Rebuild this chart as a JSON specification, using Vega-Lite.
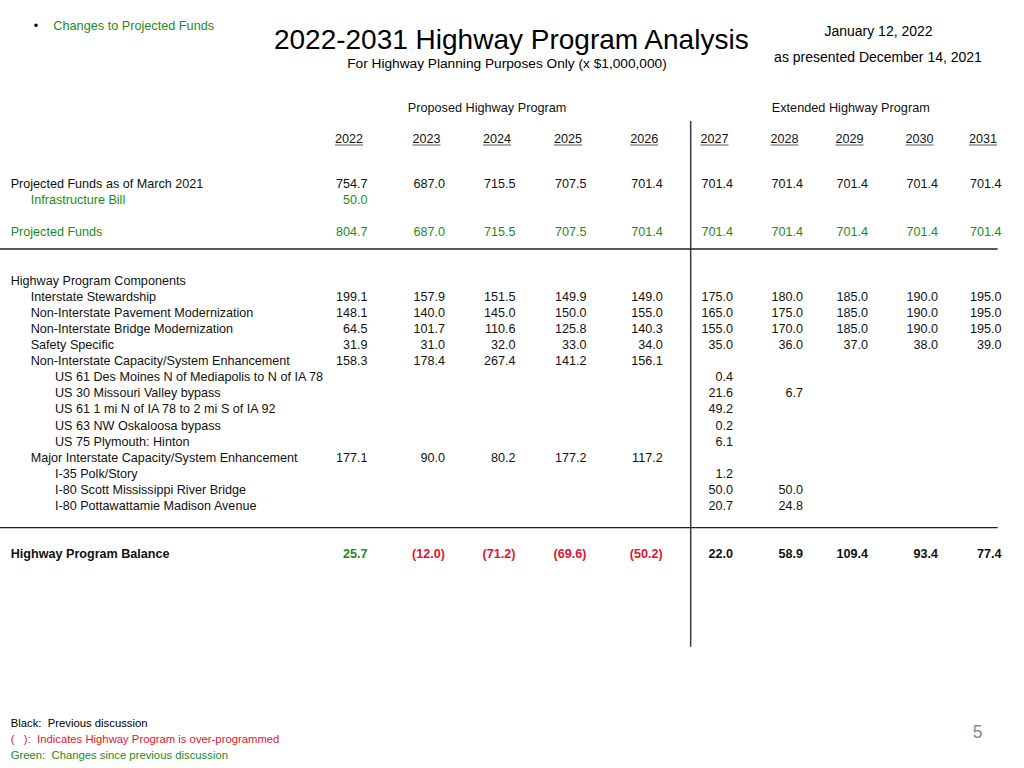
{
  "$schema": "https://vega.github.io/schema/vega-lite/v6.json",
  "width": 1024,
  "height": 768,
  "autosize": {"type": "none"},
  "padding": 0,
  "background": "#ffffff",
  "config": {"view": {"stroke": null}, "text": {"font": "Liberation Sans"}},
  "datasets": {
    "rows": [
      {"line": 0, "item": "Projected Funds as of March 2021", "level": 0, "status": "previous"},
      {"line": 1, "item": "Infrastructure Bill", "level": 1, "status": "changed"},
      {"line": 3, "item": "Projected Funds", "level": 0, "status": "changed"},
      {"line": 6, "item": "Highway Program Components", "level": 0, "status": "previous"},
      {"line": 7, "item": "Interstate Stewardship", "level": 1, "status": "previous"},
      {"line": 8, "item": "Non-Interstate Pavement Modernization", "level": 1, "status": "previous"},
      {"line": 9, "item": "Non-Interstate Bridge Modernization", "level": 1, "status": "previous"},
      {"line": 10, "item": "Safety Specific", "level": 1, "status": "previous"},
      {"line": 11, "item": "Non-Interstate Capacity/System Enhancement", "level": 1, "status": "previous"},
      {"line": 12, "item": "US 61 Des Moines N of Mediapolis to N of IA 78", "level": 2, "status": "previous"},
      {"line": 13, "item": "US 30 Missouri Valley bypass", "level": 2, "status": "previous"},
      {"line": 14, "item": "US 61 1 mi N of IA 78 to 2 mi S of IA 92", "level": 2, "status": "previous"},
      {"line": 15, "item": "US 63 NW Oskaloosa bypass", "level": 2, "status": "previous"},
      {"line": 16, "item": "US 75 Plymouth: Hinton", "level": 2, "status": "previous"},
      {"line": 17, "item": "Major Interstate Capacity/System Enhancement", "level": 1, "status": "previous"},
      {"line": 18, "item": "I-35 Polk/Story", "level": 2, "status": "previous"},
      {"line": 19, "item": "I-80 Scott Mississippi River Bridge", "level": 2, "status": "previous"},
      {"line": 20, "item": "I-80 Pottawattamie Madison Avenue", "level": 2, "status": "previous"},
      {"line": 23, "item": "Highway Program Balance", "level": 0, "status": "previous"}
    ],
    "years": [
      {"year": 2022}, {"year": 2023}, {"year": 2024}, {"year": 2025}, {"year": 2026},
      {"year": 2027}, {"year": 2028}, {"year": 2029}, {"year": 2030}, {"year": 2031}
    ],
    "one": [{}],
    "cells": [
      {"item": "Projected Funds as of March 2021", "year": 2022, "value": 754.7, "status": "previous"},
      {"item": "Projected Funds as of March 2021", "year": 2023, "value": 687.0, "status": "previous"},
      {"item": "Projected Funds as of March 2021", "year": 2024, "value": 715.5, "status": "previous"},
      {"item": "Projected Funds as of March 2021", "year": 2025, "value": 707.5, "status": "previous"},
      {"item": "Projected Funds as of March 2021", "year": 2026, "value": 701.4, "status": "previous"},
      {"item": "Projected Funds as of March 2021", "year": 2027, "value": 701.4, "status": "previous"},
      {"item": "Projected Funds as of March 2021", "year": 2028, "value": 701.4, "status": "previous"},
      {"item": "Projected Funds as of March 2021", "year": 2029, "value": 701.4, "status": "previous"},
      {"item": "Projected Funds as of March 2021", "year": 2030, "value": 701.4, "status": "previous"},
      {"item": "Projected Funds as of March 2021", "year": 2031, "value": 701.4, "status": "previous"},
      {"item": "Infrastructure Bill", "year": 2022, "value": 50.0, "status": "changed"},
      {"item": "Projected Funds", "year": 2022, "value": 804.7, "status": "changed"},
      {"item": "Projected Funds", "year": 2023, "value": 687.0, "status": "changed"},
      {"item": "Projected Funds", "year": 2024, "value": 715.5, "status": "changed"},
      {"item": "Projected Funds", "year": 2025, "value": 707.5, "status": "changed"},
      {"item": "Projected Funds", "year": 2026, "value": 701.4, "status": "changed"},
      {"item": "Projected Funds", "year": 2027, "value": 701.4, "status": "changed"},
      {"item": "Projected Funds", "year": 2028, "value": 701.4, "status": "changed"},
      {"item": "Projected Funds", "year": 2029, "value": 701.4, "status": "changed"},
      {"item": "Projected Funds", "year": 2030, "value": 701.4, "status": "changed"},
      {"item": "Projected Funds", "year": 2031, "value": 701.4, "status": "changed"},
      {"item": "Interstate Stewardship", "year": 2022, "value": 199.1, "status": "previous"},
      {"item": "Interstate Stewardship", "year": 2023, "value": 157.9, "status": "previous"},
      {"item": "Interstate Stewardship", "year": 2024, "value": 151.5, "status": "previous"},
      {"item": "Interstate Stewardship", "year": 2025, "value": 149.9, "status": "previous"},
      {"item": "Interstate Stewardship", "year": 2026, "value": 149.0, "status": "previous"},
      {"item": "Interstate Stewardship", "year": 2027, "value": 175.0, "status": "previous"},
      {"item": "Interstate Stewardship", "year": 2028, "value": 180.0, "status": "previous"},
      {"item": "Interstate Stewardship", "year": 2029, "value": 185.0, "status": "previous"},
      {"item": "Interstate Stewardship", "year": 2030, "value": 190.0, "status": "previous"},
      {"item": "Interstate Stewardship", "year": 2031, "value": 195.0, "status": "previous"},
      {"item": "Non-Interstate Pavement Modernization", "year": 2022, "value": 148.1, "status": "previous"},
      {"item": "Non-Interstate Pavement Modernization", "year": 2023, "value": 140.0, "status": "previous"},
      {"item": "Non-Interstate Pavement Modernization", "year": 2024, "value": 145.0, "status": "previous"},
      {"item": "Non-Interstate Pavement Modernization", "year": 2025, "value": 150.0, "status": "previous"},
      {"item": "Non-Interstate Pavement Modernization", "year": 2026, "value": 155.0, "status": "previous"},
      {"item": "Non-Interstate Pavement Modernization", "year": 2027, "value": 165.0, "status": "previous"},
      {"item": "Non-Interstate Pavement Modernization", "year": 2028, "value": 175.0, "status": "previous"},
      {"item": "Non-Interstate Pavement Modernization", "year": 2029, "value": 185.0, "status": "previous"},
      {"item": "Non-Interstate Pavement Modernization", "year": 2030, "value": 190.0, "status": "previous"},
      {"item": "Non-Interstate Pavement Modernization", "year": 2031, "value": 195.0, "status": "previous"},
      {"item": "Non-Interstate Bridge Modernization", "year": 2022, "value": 64.5, "status": "previous"},
      {"item": "Non-Interstate Bridge Modernization", "year": 2023, "value": 101.7, "status": "previous"},
      {"item": "Non-Interstate Bridge Modernization", "year": 2024, "value": 110.6, "status": "previous"},
      {"item": "Non-Interstate Bridge Modernization", "year": 2025, "value": 125.8, "status": "previous"},
      {"item": "Non-Interstate Bridge Modernization", "year": 2026, "value": 140.3, "status": "previous"},
      {"item": "Non-Interstate Bridge Modernization", "year": 2027, "value": 155.0, "status": "previous"},
      {"item": "Non-Interstate Bridge Modernization", "year": 2028, "value": 170.0, "status": "previous"},
      {"item": "Non-Interstate Bridge Modernization", "year": 2029, "value": 185.0, "status": "previous"},
      {"item": "Non-Interstate Bridge Modernization", "year": 2030, "value": 190.0, "status": "previous"},
      {"item": "Non-Interstate Bridge Modernization", "year": 2031, "value": 195.0, "status": "previous"},
      {"item": "Safety Specific", "year": 2022, "value": 31.9, "status": "previous"},
      {"item": "Safety Specific", "year": 2023, "value": 31.0, "status": "previous"},
      {"item": "Safety Specific", "year": 2024, "value": 32.0, "status": "previous"},
      {"item": "Safety Specific", "year": 2025, "value": 33.0, "status": "previous"},
      {"item": "Safety Specific", "year": 2026, "value": 34.0, "status": "previous"},
      {"item": "Safety Specific", "year": 2027, "value": 35.0, "status": "previous"},
      {"item": "Safety Specific", "year": 2028, "value": 36.0, "status": "previous"},
      {"item": "Safety Specific", "year": 2029, "value": 37.0, "status": "previous"},
      {"item": "Safety Specific", "year": 2030, "value": 38.0, "status": "previous"},
      {"item": "Safety Specific", "year": 2031, "value": 39.0, "status": "previous"},
      {"item": "Non-Interstate Capacity/System Enhancement", "year": 2022, "value": 158.3, "status": "previous"},
      {"item": "Non-Interstate Capacity/System Enhancement", "year": 2023, "value": 178.4, "status": "previous"},
      {"item": "Non-Interstate Capacity/System Enhancement", "year": 2024, "value": 267.4, "status": "previous"},
      {"item": "Non-Interstate Capacity/System Enhancement", "year": 2025, "value": 141.2, "status": "previous"},
      {"item": "Non-Interstate Capacity/System Enhancement", "year": 2026, "value": 156.1, "status": "previous"},
      {"item": "US 61 Des Moines N of Mediapolis to N of IA 78", "year": 2027, "value": 0.4, "status": "previous"},
      {"item": "US 30 Missouri Valley bypass", "year": 2027, "value": 21.6, "status": "previous"},
      {"item": "US 30 Missouri Valley bypass", "year": 2028, "value": 6.7, "status": "previous"},
      {"item": "US 61 1 mi N of IA 78 to 2 mi S of IA 92", "year": 2027, "value": 49.2, "status": "previous"},
      {"item": "US 63 NW Oskaloosa bypass", "year": 2027, "value": 0.2, "status": "previous"},
      {"item": "US 75 Plymouth: Hinton", "year": 2027, "value": 6.1, "status": "previous"},
      {"item": "Major Interstate Capacity/System Enhancement", "year": 2022, "value": 177.1, "status": "previous"},
      {"item": "Major Interstate Capacity/System Enhancement", "year": 2023, "value": 90.0, "status": "previous"},
      {"item": "Major Interstate Capacity/System Enhancement", "year": 2024, "value": 80.2, "status": "previous"},
      {"item": "Major Interstate Capacity/System Enhancement", "year": 2025, "value": 177.2, "status": "previous"},
      {"item": "Major Interstate Capacity/System Enhancement", "year": 2026, "value": 117.2, "status": "previous"},
      {"item": "I-35 Polk/Story", "year": 2027, "value": 1.2, "status": "previous"},
      {"item": "I-80 Scott Mississippi River Bridge", "year": 2027, "value": 50.0, "status": "previous"},
      {"item": "I-80 Scott Mississippi River Bridge", "year": 2028, "value": 50.0, "status": "previous"},
      {"item": "I-80 Pottawattamie Madison Avenue", "year": 2027, "value": 20.7, "status": "previous"},
      {"item": "I-80 Pottawattamie Madison Avenue", "year": 2028, "value": 24.8, "status": "previous"},
      {"item": "Highway Program Balance", "year": 2022, "value": 25.7, "status": "changed"},
      {"item": "Highway Program Balance", "year": 2023, "value": -12.0, "status": "over-programmed"},
      {"item": "Highway Program Balance", "year": 2024, "value": -71.2, "status": "over-programmed"},
      {"item": "Highway Program Balance", "year": 2025, "value": -69.6, "status": "over-programmed"},
      {"item": "Highway Program Balance", "year": 2026, "value": -50.2, "status": "over-programmed"},
      {"item": "Highway Program Balance", "year": 2027, "value": 22.0, "status": "previous"},
      {"item": "Highway Program Balance", "year": 2028, "value": 58.9, "status": "previous"},
      {"item": "Highway Program Balance", "year": 2029, "value": 109.4, "status": "previous"},
      {"item": "Highway Program Balance", "year": 2030, "value": 93.4, "status": "previous"},
      {"item": "Highway Program Balance", "year": 2031, "value": 77.4, "status": "previous"}
    ]
  },
  "resolve": {"scale": {"x": "independent", "y": "shared", "color": "shared"}},
  "layer": [
    {
      "data": {"name": "one"},
      "mark": {"type": "rule", "color": "#3a3a3a", "strokeWidth": 1.5},
      "encoding": {
        "x": {"datum": 2026.398, "type": "quantitative", "axis": null, "scale": {"domain": [2022, 2023, 2024, 2025, 2026, 2027, 2028, 2029, 2030, 2031], "range": [367.5, 445, 515.5, 586.5, 662.7, 733, 803, 868, 938, 1001.5], "nice": false, "zero": false}},
        "y": {"datum": -3.913, "type": "quantitative", "axis": null, "scale": {"domain": [-11.4286, 36.2733], "range": [0, 768], "nice": false, "zero": false}},
        "y2": {"datum": 28.739}
      }
    },
    {
      "data": {"name": "one"},
      "mark": {"type": "rule", "color": "#222222", "strokeWidth": 1.3},
      "encoding": {
        "x": {"datum": 2017.258, "type": "quantitative", "axis": null, "scale": {"domain": [2022, 2023, 2024, 2025, 2026, 2027, 2028, 2029, 2030, 2031], "range": [367.5, 445, 515.5, 586.5, 662.7, 733, 803, 868, 938, 1001.5], "nice": false, "zero": false}},
        "x2": {"datum": 2030.94},
        "y": {"datum": 4.037, "type": "quantitative", "axis": null, "scale": {"domain": [-11.4286, 36.2733], "range": [0, 768], "nice": false, "zero": false}}
      }
    },
    {
      "data": {"name": "one"},
      "mark": {"type": "rule", "color": "#222222", "strokeWidth": 1.3},
      "encoding": {
        "x": {"datum": 2017.258, "type": "quantitative", "axis": null, "scale": {"domain": [2022, 2023, 2024, 2025, 2026, 2027, 2028, 2029, 2030, 2031], "range": [367.5, 445, 515.5, 586.5, 662.7, 733, 803, 868, 938, 1001.5], "nice": false, "zero": false}},
        "x2": {"datum": 2030.94},
        "y": {"datum": 21.348, "type": "quantitative", "axis": null, "scale": {"domain": [-11.4286, 36.2733], "range": [0, 768], "nice": false, "zero": false}}
      }
    },
    {
      "data": {"name": "years"},
      "mark": {"type": "tick", "orient": "horizontal", "thickness": 1, "xOffset": -18.5, "color": "#111111"},
      "encoding": {
        "x": {"field": "year", "type": "quantitative", "axis": null, "scale": {"domain": [2022, 2023, 2024, 2025, 2026, 2027, 2028, 2029, 2030, 2031], "range": [367.5, 445, 515.5, 586.5, 662.7, 733, 803, 868, 938, 1001.5], "nice": false, "zero": false}},
        "y": {"datum": -2.422, "type": "quantitative", "axis": null, "scale": {"domain": [-11.4286, 36.2733], "range": [0, 768], "nice": false, "zero": false}},
        "size": {"value": 28}
      }
    },
    {
      "data": {"name": "years"},
      "mark": {"type": "text", "align": "right", "baseline": "middle", "dx": -4.5, "fontSize": 12.6, "color": "#111111"},
      "encoding": {
        "x": {"field": "year", "type": "quantitative", "axis": null, "scale": {"domain": [2022, 2023, 2024, 2025, 2026, 2027, 2028, 2029, 2030, 2031], "range": [367.5, 445, 515.5, 586.5, 662.7, 733, 803, 868, 938, 1001.5], "nice": false, "zero": false}},
        "y": {"datum": -2.795, "type": "quantitative", "axis": null, "scale": {"domain": [-11.4286, 36.2733], "range": [0, 768], "nice": false, "zero": false}},
        "text": {"field": "year", "type": "nominal"}
      }
    },
    {
      "data": {"name": "one"},
      "mark": {"type": "text", "align": "center", "baseline": "middle", "fontSize": 12.7, "color": "#111111", "text": "Proposed Highway Program"},
      "encoding": {
        "x": {"datum": 2023.596, "type": "quantitative", "axis": null, "scale": {"domain": [2022, 2023, 2024, 2025, 2026, 2027, 2028, 2029, 2030, 2031], "range": [367.5, 445, 515.5, 586.5, 662.7, 733, 803, 868, 938, 1001.5], "nice": false, "zero": false}},
        "y": {"datum": -4.702, "type": "quantitative", "axis": null, "scale": {"domain": [-11.4286, 36.2733], "range": [0, 768], "nice": false, "zero": false}}
      }
    },
    {
      "data": {"name": "one"},
      "mark": {"type": "text", "align": "center", "baseline": "middle", "fontSize": 12.7, "color": "#111111", "text": "Extended Highway Program"},
      "encoding": {
        "x": {"datum": 2028.735, "type": "quantitative", "axis": null, "scale": {"domain": [2022, 2023, 2024, 2025, 2026, 2027, 2028, 2029, 2030, 2031], "range": [367.5, 445, 515.5, 586.5, 662.7, 733, 803, 868, 938, 1001.5], "nice": false, "zero": false}},
        "y": {"datum": -4.702, "type": "quantitative", "axis": null, "scale": {"domain": [-11.4286, 36.2733], "range": [0, 768], "nice": false, "zero": false}}
      }
    },
    {
      "data": {"name": "rows"},
      "transform": [{"filter": "datum.item !== 'Highway Program Balance'"}],
      "mark": {"type": "text", "align": "left", "baseline": "middle", "fontSize": 12.6},
      "encoding": {
        "x": {"field": "level", "type": "quantitative", "axis": null, "scale": {"domain": [0, 1, 2], "range": [10.7, 30.7, 55], "nice": false, "zero": false}},
        "y": {"field": "line", "type": "quantitative", "axis": null, "scale": {"domain": [-11.4286, 36.2733], "range": [0, 768], "nice": false, "zero": false}},
        "text": {"field": "item", "type": "nominal"},
        "color": {"field": "status", "type": "nominal", "legend": null, "scale": {"domain": ["previous", "changed", "over-programmed"], "range": ["#111111", "#218c21", "#e3142c"]}}
      }
    },
    {
      "data": {"name": "rows"},
      "transform": [{"filter": "datum.item === 'Highway Program Balance'"}],
      "mark": {"type": "text", "align": "left", "baseline": "middle", "fontSize": 12.6, "fontWeight": "bold"},
      "encoding": {
        "x": {"field": "level", "type": "quantitative", "axis": null, "scale": {"domain": [0, 1, 2], "range": [10.7, 30.7, 55], "nice": false, "zero": false}},
        "y": {"field": "line", "type": "quantitative", "axis": null, "scale": {"domain": [-11.4286, 36.2733], "range": [0, 768], "nice": false, "zero": false}},
        "text": {"field": "item", "type": "nominal"},
        "color": {"field": "status", "type": "nominal", "legend": null, "scale": {"domain": ["previous", "changed", "over-programmed"], "range": ["#111111", "#218c21", "#e3142c"]}}
      }
    },
    {
      "data": {"name": "cells"},
      "transform": [
        {"filter": "datum.item !== 'Highway Program Balance'"},
        {"lookup": "item", "from": {"data": {"name": "rows"}, "key": "item", "fields": ["line"]}}
      ],
      "mark": {"type": "text", "align": "right", "baseline": "middle", "fontSize": 12.6},
      "encoding": {
        "x": {"field": "year", "type": "quantitative", "axis": null, "scale": {"domain": [2022, 2023, 2024, 2025, 2026, 2027, 2028, 2029, 2030, 2031], "range": [367.5, 445, 515.5, 586.5, 662.7, 733, 803, 868, 938, 1001.5], "nice": false, "zero": false}},
        "y": {"field": "line", "type": "quantitative", "axis": null, "scale": {"domain": [-11.4286, 36.2733], "range": [0, 768], "nice": false, "zero": false}},
        "text": {"field": "value", "type": "quantitative", "format": "(.1f"},
        "color": {"field": "status", "type": "nominal", "legend": null, "scale": {"domain": ["previous", "changed", "over-programmed"], "range": ["#111111", "#218c21", "#e3142c"]}}
      }
    },
    {
      "data": {"name": "cells"},
      "transform": [
        {"filter": "datum.item === 'Highway Program Balance'"},
        {"lookup": "item", "from": {"data": {"name": "rows"}, "key": "item", "fields": ["line"]}}
      ],
      "mark": {"type": "text", "align": "right", "baseline": "middle", "fontSize": 12.6, "fontWeight": "bold"},
      "encoding": {
        "x": {"field": "year", "type": "quantitative", "axis": null, "scale": {"domain": [2022, 2023, 2024, 2025, 2026, 2027, 2028, 2029, 2030, 2031], "range": [367.5, 445, 515.5, 586.5, 662.7, 733, 803, 868, 938, 1001.5], "nice": false, "zero": false}},
        "y": {"field": "line", "type": "quantitative", "axis": null, "scale": {"domain": [-11.4286, 36.2733], "range": [0, 768], "nice": false, "zero": false}},
        "text": {"field": "value", "type": "quantitative", "format": "(.1f"},
        "color": {"field": "status", "type": "nominal", "legend": null, "scale": {"domain": ["previous", "changed", "over-programmed"], "range": ["#111111", "#218c21", "#e3142c"]}}
      }
    },
    {
      "data": {"name": "one"},
      "mark": {"type": "text", "align": "center", "baseline": "middle", "fontSize": 28, "color": "#000000", "text": "2022-2031 Highway Program Analysis"},
      "encoding": {
        "x": {"datum": 2023.94, "type": "quantitative", "axis": null, "scale": {"domain": [2022, 2023, 2024, 2025, 2026, 2027, 2028, 2029, 2030, 2031], "range": [367.5, 445, 515.5, 586.5, 662.7, 733, 803, 868, 938, 1001.5], "nice": false, "zero": false}},
        "y": {"datum": -8.864, "type": "quantitative", "axis": null, "scale": {"domain": [-11.4286, 36.2733], "range": [0, 768], "nice": false, "zero": false}}
      }
    },
    {
      "data": {"name": "one"},
      "mark": {"type": "text", "align": "center", "baseline": "middle", "fontSize": 13.7, "color": "#000000", "text": "For Highway Planning Purposes Only (x $1,000,000)"},
      "encoding": {
        "x": {"datum": 2023.879, "type": "quantitative", "axis": null, "scale": {"domain": [2022, 2023, 2024, 2025, 2026, 2027, 2028, 2029, 2030, 2031], "range": [367.5, 445, 515.5, 586.5, 662.7, 733, 803, 868, 938, 1001.5], "nice": false, "zero": false}},
        "y": {"datum": -7.479, "type": "quantitative", "axis": null, "scale": {"domain": [-11.4286, 36.2733], "range": [0, 768], "nice": false, "zero": false}}
      }
    },
    {
      "data": {"name": "one"},
      "mark": {"type": "text", "align": "center", "baseline": "middle", "fontSize": 12.7, "color": "#000000", "text": "•"},
      "encoding": {
        "x": {"datum": 2017.723, "type": "quantitative", "axis": null, "scale": {"domain": [2022, 2023, 2024, 2025, 2026, 2027, 2028, 2029, 2030, 2031], "range": [367.5, 445, 515.5, 586.5, 662.7, 733, 803, 868, 938, 1001.5], "nice": false, "zero": false}},
        "y": {"datum": -9.783, "type": "quantitative", "axis": null, "scale": {"domain": [-11.4286, 36.2733], "range": [0, 768], "nice": false, "zero": false}}
      }
    },
    {
      "data": {"name": "one"},
      "mark": {"type": "text", "align": "left", "baseline": "middle", "fontSize": 12.7, "color": "#218c21", "text": "Changes to Projected Funds"},
      "encoding": {
        "x": {"datum": 2017.946, "type": "quantitative", "axis": null, "scale": {"domain": [2022, 2023, 2024, 2025, 2026, 2027, 2028, 2029, 2030, 2031], "range": [367.5, 445, 515.5, 586.5, 662.7, 733, 803, 868, 938, 1001.5], "nice": false, "zero": false}},
        "y": {"datum": -9.783, "type": "quantitative", "axis": null, "scale": {"domain": [-11.4286, 36.2733], "range": [0, 768], "nice": false, "zero": false}}
      }
    },
    {
      "data": {"name": "one"},
      "mark": {"type": "text", "align": "center", "baseline": "middle", "fontSize": 14, "color": "#000000", "text": "January 12, 2022"},
      "encoding": {
        "x": {"datum": 2029.15, "type": "quantitative", "axis": null, "scale": {"domain": [2022, 2023, 2024, 2025, 2026, 2027, 2028, 2029, 2030, 2031], "range": [367.5, 445, 515.5, 586.5, 662.7, 733, 803, 868, 938, 1001.5], "nice": false, "zero": false}},
        "y": {"datum": -9.43, "type": "quantitative", "axis": null, "scale": {"domain": [-11.4286, 36.2733], "range": [0, 768], "nice": false, "zero": false}}
      }
    },
    {
      "data": {"name": "one"},
      "mark": {"type": "text", "align": "center", "baseline": "middle", "fontSize": 14, "color": "#000000", "text": "as presented December 14, 2021"},
      "encoding": {
        "x": {"datum": 2029.143, "type": "quantitative", "axis": null, "scale": {"domain": [2022, 2023, 2024, 2025, 2026, 2027, 2028, 2029, 2030, 2031], "range": [367.5, 445, 515.5, 586.5, 662.7, 733, 803, 868, 938, 1001.5], "nice": false, "zero": false}},
        "y": {"datum": -7.845, "type": "quantitative", "axis": null, "scale": {"domain": [-11.4286, 36.2733], "range": [0, 768], "nice": false, "zero": false}}
      }
    },
    {
      "data": {"name": "one"},
      "mark": {"type": "text", "align": "left", "baseline": "middle", "fontSize": 11.3, "color": "#000000", "text": "Black:\u00a0 Previous discussion"},
      "encoding": {
        "x": {"datum": 2017.396, "type": "quantitative", "axis": null, "scale": {"domain": [2022, 2023, 2024, 2025, 2026, 2027, 2028, 2029, 2030, 2031], "range": [367.5, 445, 515.5, 586.5, 662.7, 733, 803, 868, 938, 1001.5], "nice": false, "zero": false}},
        "y": {"datum": 33.528, "type": "quantitative", "axis": null, "scale": {"domain": [-11.4286, 36.2733], "range": [0, 768], "nice": false, "zero": false}}
      }
    },
    {
      "data": {"name": "one"},
      "mark": {"type": "text", "align": "left", "baseline": "middle", "fontSize": 11.3, "color": "#e3142c", "text": "(\u00a0 \u00a0):\u00a0 Indicates Highway Program is over-programmed"},
      "encoding": {
        "x": {"datum": 2017.396, "type": "quantitative", "axis": null, "scale": {"domain": [2022, 2023, 2024, 2025, 2026, 2027, 2028, 2029, 2030, 2031], "range": [367.5, 445, 515.5, 586.5, 662.7, 733, 803, 868, 938, 1001.5], "nice": false, "zero": false}},
        "y": {"datum": 34.522, "type": "quantitative", "axis": null, "scale": {"domain": [-11.4286, 36.2733], "range": [0, 768], "nice": false, "zero": false}}
      }
    },
    {
      "data": {"name": "one"},
      "mark": {"type": "text", "align": "left", "baseline": "middle", "fontSize": 11.3, "color": "#218c21", "text": "Green:\u00a0 Changes since previous discussion"},
      "encoding": {
        "x": {"datum": 2017.396, "type": "quantitative", "axis": null, "scale": {"domain": [2022, 2023, 2024, 2025, 2026, 2027, 2028, 2029, 2030, 2031], "range": [367.5, 445, 515.5, 586.5, 662.7, 733, 803, 868, 938, 1001.5], "nice": false, "zero": false}},
        "y": {"datum": 35.513, "type": "quantitative", "axis": null, "scale": {"domain": [-11.4286, 36.2733], "range": [0, 768], "nice": false, "zero": false}}
      }
    },
    {
      "data": {"name": "one"},
      "mark": {"type": "text", "align": "center", "baseline": "middle", "fontSize": 17.5, "color": "#8a8a8a", "text": "5"},
      "encoding": {
        "x": {"datum": 2030.625, "type": "quantitative", "axis": null, "scale": {"domain": [2022, 2023, 2024, 2025, 2026, 2027, 2028, 2029, 2030, 2031], "range": [367.5, 445, 515.5, 586.5, 662.7, 733, 803, 868, 938, 1001.5], "nice": false, "zero": false}},
        "y": {"datum": 34.118, "type": "quantitative", "axis": null, "scale": {"domain": [-11.4286, 36.2733], "range": [0, 768], "nice": false, "zero": false}}
      }
    }
  ]
}
